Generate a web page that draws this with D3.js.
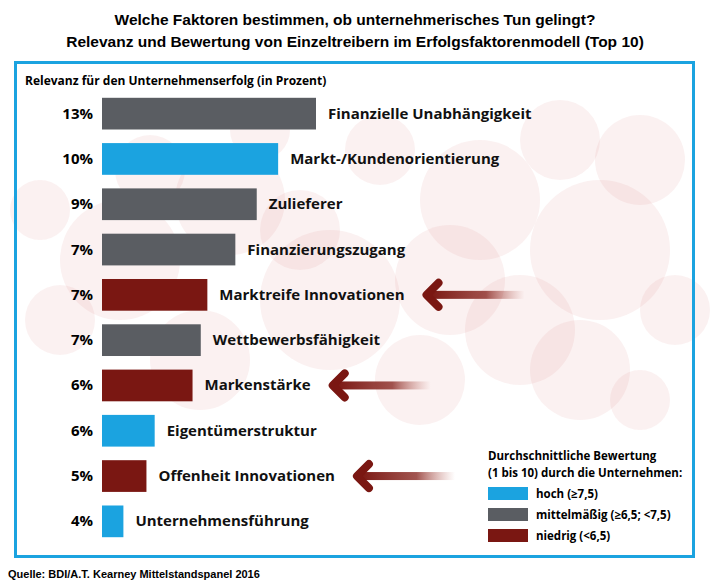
<!DOCTYPE html>
<html><head><meta charset="utf-8">
<script src="https://cdn.jsdelivr.net/npm/d3@7"></script>
<style>body{margin:0;background:#fff}text{font-family:"Open Sans",Inter,sans-serif}</style>
</head><body>
<script>
const categories = ['Finanzielle Unabhängigkeit','Markt-/Kundenorientierung','Zulieferer','Finanzierungszugang','Marktreife Innovationen','Wettbewerbsfähigkeit','Markenstärke','Eigentümerstruktur','Offenheit Innovationen','Unternehmensführung']
const labels = ['13%','10%','9%','7%','7%','7%','6%','6%','5%','4%']
const values = [13, 10.7, 9.4, 8.1, 6.4, 6.0, 5.5, 3.2, 2.7, 1.3]
const rating = ['mid','high','mid','mid','low','mid','low','high','low','high']
const arrowRows = [4, 6, 8]
const legendKeys = ['high','mid','low']
const legendLabels = ['hoch (≥7,5)','mittelmäßig (≥6,5; <7,5)','niedrig (<6,5)']

const colors = {high:'#1ba3e0', mid:'#5a5d62', low:'#7a1712'}
const w = 710, h = 587
const svg = d3.select('body').append('svg').attr('width', w).attr('height', h)

svg.append('text').attr('x', 355).attr('y', 25).attr('text-anchor','middle')
	.style('font-family','Liberation Sans, Arial').style('font-weight','bold').style('font-size','15.5px')
	.text('Welche Faktoren bestimmen, ob unternehmerisches Tun gelingt?')
svg.append('text').attr('x', 355).attr('y', 47).attr('text-anchor','middle')
	.style('font-family','Liberation Sans, Arial').style('font-weight','bold').style('font-size','15.5px')
	.text('Relevanz und Bewertung von Einzeltreibern im Erfolgsfaktorenmodell (Top 10)')

// soft background bubbles
const defs = svg.append('defs')
const grad = defs.append('linearGradient').attr('id','fade')
grad.append('stop').attr('offset','0%').attr('stop-color','#7a1712')
grad.append('stop').attr('offset','60%').attr('stop-color','#8a2a24').attr('stop-opacity',0.8)
grad.append('stop').attr('offset','100%').attr('stop-color','#c06a60').attr('stop-opacity',0)
const bubbles = [[230,200,55],[120,260,60],[330,300,70],[480,200,60],[600,250,70],[520,330,55],[640,160,45],[200,360,50],[420,380,45],[580,370,50],[60,320,35],[300,230,40],[450,280,55],[675,310,35],[150,170,35],[560,140,40],[380,150,35],[260,130,30],[40,210,30],[640,400,30]]
svg.append('g').selectAll('circle').data(bubbles).join('circle').attr('cx',d=>d[0]).attr('cy',d=>d[1]).attr('r',d=>d[2])
	.attr('fill','#e08a8a').attr('fill-opacity',0.12)

svg.append('rect').attr('x',15.5).attr('y',62.5).attr('width',678).attr('height',494)
	.attr('fill','none').attr('stroke','#1ba3e0').attr('stroke-width',3)

svg.append('text').attr('x',25).attr('y',85).style('font-weight','bold').style('font-size','12px')
	.text('Relevanz für den Unternehmenserfolg (in Prozent)')

const x = d3.scaleLinear().domain([0, 13]).range([102, 316])
const y = d3.scaleBand().domain(categories).range([91, 544]).paddingInner(0.3).paddingOuter(0.15)

const rows = svg.append('g').selectAll('g').data(categories).join('g')
rows.append('rect').attr('x', x(0)).attr('y', d => y(d))
	.attr('width', (d,i) => x(values[i]) - x(0)).attr('height', y.bandwidth())
	.attr('fill', (d,i) => colors[rating[i]])
rows.append('text').attr('x', 93).attr('y', d => y(d) + y.bandwidth()/2 + 5).attr('text-anchor','end')
	.style('font-weight','bold').style('font-size','15px').text((d,i) => labels[i])
rows.append('text').attr('x', (d,i) => x(values[i]) + 12).attr('y', d => y(d) + y.bandwidth()/2 + 5)
	.style('font-weight','bold').style('font-size','15px').attr('fill','#111').text(d => d)

// arrows, placed after each label
const ag = svg.append('g')
rows.each(function(d, i) {
	if (!arrowRows.includes(i)) return
	const t = d3.select(this).select('text:last-of-type').node()
	const cy = y(d) + y.bandwidth()/2
	const tip = t.getBBox().x + t.getBBox().width + 20
	const g = ag.append('g')
	g.append('rect').attr('x', tip + 4).attr('y', cy - 4).attr('width', 96).attr('height', 8).attr('fill','url(#fade)')
	g.append('path').attr('d', `M${tip+14},${cy-12} L${tip+2},${cy} L${tip+14},${cy+12}`)
		.attr('fill','none').attr('stroke','#7a1712').attr('stroke-width',8).attr('stroke-linecap','round').attr('stroke-linejoin','round')
})

// legend
const lg = svg.append('g').attr('transform','translate(488,460)')
lg.append('text').attr('y',0).style('font-weight','bold').style('font-size','11.5px').text('Durchschnittliche Bewertung')
lg.append('text').attr('y',17).style('font-weight','bold').style('font-size','11.5px').text('(1 bis 10) durch die Unternehmen:')
legendKeys.forEach((k,i) => {
	lg.append('rect').attr('x',0).attr('y',27 + i*21).attr('width',40).attr('height',13).attr('fill',colors[k])
	lg.append('text').attr('x',48).attr('y',38 + i*21).style('font-weight','bold').style('font-size','11.5px').text(legendLabels[i])
})

svg.append('text').attr('x',8).attr('y',578).style('font-family','Liberation Sans, Arial').style('font-weight','bold').style('font-size','11px')
	.text('Quelle: BDI/A.T. Kearney Mittelstandspanel 2016')
</script>
</body></html>
